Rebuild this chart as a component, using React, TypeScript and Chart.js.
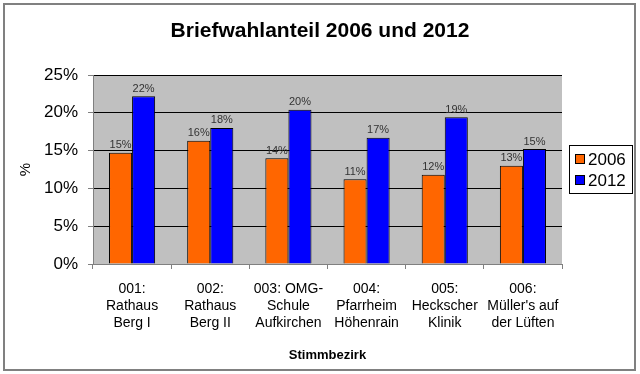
import React, { useEffect, useRef } from "react";
import { Chart, registerables } from "chart.js";

Chart.register(...registerables);

const categories: string[][] = [
  ["001:", "Rathaus", "Berg I"],
  ["002:", "Rathaus", "Berg II"],
  ["003: OMG-", "Schule", "Aufkirchen"],
  ["004:", "Pfarrheim", "Höhenrain"],
  ["005:", "Heckscher", "Klinik"],
  ["006:", "Müller's auf", "der Lüften"],
];
const values2006: number[] = [14.7, 16.3, 14.0, 11.2, 11.8, 13.0];
const values2012: number[] = [22.2, 18.0, 20.4, 16.7, 19.4, 15.2];
const yTicks: number[] = [0, 5, 10, 15, 20, 25];
const titleText = "Briefwahlanteil 2006 und 2012";

const FONT = "'Liberation Sans', Arial, sans-serif";

const PLOT = { left: 93, right: 562, top: 75, bottom: 264 };

const decorPlugin = {
  id: "decor",
  beforeDraw(chart: any) {
    const { ctx, chartArea } = chart;
    ctx.save();
    ctx.fillStyle = "#ffffff";
    ctx.fillRect(0, 0, chart.width, chart.height);
    ctx.strokeStyle = "#808080";
    ctx.lineWidth = 2;
    ctx.strokeRect(4, 4, 631, 366);
    ctx.fillStyle = "#c0c0c0";
    ctx.fillRect(chartArea.left, chartArea.top, chartArea.right - chartArea.left, chartArea.bottom - chartArea.top);
    ctx.restore();
  },
  afterDatasetsDraw(chart: any) {
    const { ctx } = chart;
    ctx.save();
    // title
    ctx.font = `bold 21px ${FONT}`;
    ctx.fillStyle = "#000000";
    ctx.textAlign = "center";
    ctx.textBaseline = "middle";
    ctx.fillText(titleText, 320, 31);
    // data labels
    ctx.font = `11px ${FONT}`;
    ctx.fillStyle = "#333333";
    ctx.textBaseline = "bottom";
    chart.data.datasets.forEach((ds: any, i: number) => {
      const meta = chart.getDatasetMeta(i);
      meta.data.forEach((bar: any, j: number) => {
        ctx.fillText(Math.round(ds.data[j]) + "%", bar.x, bar.y - 2);
      });
    });
    // legend
    const lx = 569, ly = 145, lw = 63, lh = 48;
    ctx.fillStyle = "#ffffff";
    ctx.fillRect(lx, ly, lw, lh);
    ctx.strokeStyle = "#000000";
    ctx.lineWidth = 1;
    ctx.strokeRect(lx + 0.5, ly + 0.5, lw, lh);
    ctx.font = `17px ${FONT}`;
    ctx.textAlign = "left";
    ctx.textBaseline = "middle";
    chart.data.datasets.forEach((ds: any, i: number) => {
      const cy = ly + 14 + i * 21;
      ctx.fillStyle = ds.backgroundColor;
      ctx.fillRect(lx + 6, cy - 5, 10, 10);
      ctx.strokeStyle = "#000000";
      ctx.strokeRect(lx + 6.5, cy - 4.5, 9, 9);
      ctx.fillStyle = "#000000";
      ctx.fillText(ds.label, lx + 19, cy + 1);
    });
    ctx.restore();
  },
};

export default function App() {
  const ref = useRef<HTMLCanvasElement | null>(null);
  useEffect(() => {
    document.body.style.margin = "0";
    const chart = new Chart(ref.current as HTMLCanvasElement, {
      type: "bar",
      data: {
        labels: categories,
        datasets: [
          { label: "2006", data: values2006, backgroundColor: "#ff6600", borderColor: "#000000", borderWidth: 1, categoryPercentage: 0.59, barPercentage: 1 },
          { label: "2012", data: values2012, backgroundColor: "#0000ff", borderColor: "#000000", borderWidth: 1, categoryPercentage: 0.59, barPercentage: 1 },
        ],
      },
      options: {
        animation: false,
        responsive: false,
        layout: { padding: { top: PLOT.top, right: 640 - PLOT.right, left: 0, bottom: 0 } },
        plugins: {
          legend: { display: false },
          tooltip: { enabled: false },
          title: { display: false },
        },
        scales: {
          x: {
            afterFit(s: any) { s.height = 374 - PLOT.bottom; },
            grid: { display: true, drawOnChartArea: false, drawTicks: true, tickLength: 5, color: "#808080" },
            border: { color: "#808080", width: 1 },
            ticks: { color: "#000000", font: { family: FONT, size: 14, lineHeight: 1.2 }, maxRotation: 0, autoSkip: false, padding: 12 },
            title: { display: true, text: "Stimmbezirk", color: "#000000", font: { family: FONT, size: 13, weight: "bold" }, padding: { top: 8, bottom: 11 } },
          },
          y: {
            min: 0,
            max: 25,
            afterFit(s: any) { s.width = PLOT.left; },
            afterBuildTicks(s: any) { s.ticks = yTicks.map((v) => ({ value: v })); },
            grid: { color: "#000000", tickLength: 5, tickColor: "#808080" },
            border: { color: "#808080", width: 1 },
            ticks: { color: "#000000", font: { family: FONT, size: 17 }, padding: 10, callback: (v: any) => v + "%" },
            title: { display: true, text: "%", color: "#000000", font: { family: FONT, size: 15 }, padding: { top: 17, bottom: 10 } },
          },
        },
      },
      plugins: [decorPlugin],
    } as any);
    return () => chart.destroy();
  }, []);
  return <canvas ref={ref} width={640} height={374} style={{ display: "block" }} />;
}
